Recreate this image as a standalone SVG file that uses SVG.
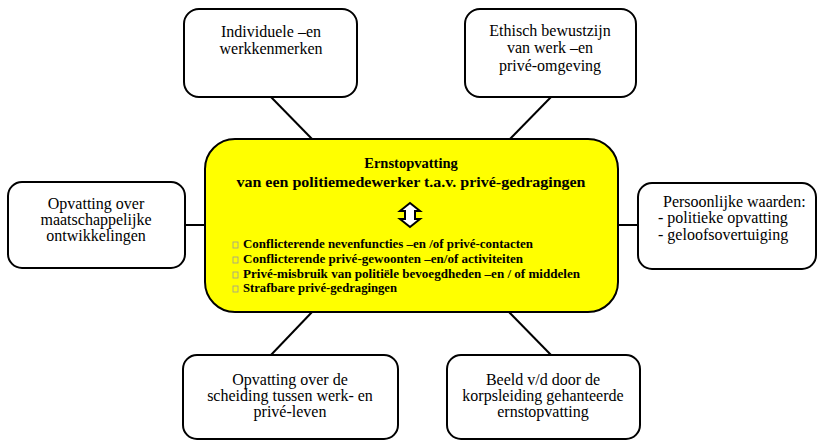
<svg xmlns="http://www.w3.org/2000/svg" width="821" height="441" viewBox="0 0 821 441">
<style>
.box{fill:#fff;stroke:#000;stroke-width:2}
.core{fill:#ffff00;stroke:#000;stroke-width:2}
.t{font-family:"Liberation Serif","Times New Roman",serif;font-size:16px;fill:#000}
.c{text-anchor:middle}
.b{font-family:"Liberation Serif","Times New Roman",serif;font-weight:bold;fill:#000}
.sq{fill:none;stroke:#999;stroke-width:0.8}
.ln{stroke:#000;stroke-width:2;fill:none}
</style>
<rect width="821" height="441" fill="#fff"/>
<g id="connectors">
<line class="ln" x1="270" y1="96" x2="313" y2="140"/>
<line class="ln" x1="552" y1="96" x2="509" y2="140"/>
<line class="ln" x1="185" y1="225" x2="206" y2="225"/>
<line class="ln" x1="617" y1="225" x2="638" y2="225"/>
<line class="ln" x1="313" y1="311" x2="270" y2="356"/>
<line class="ln" x1="508" y1="311" x2="552" y2="356"/>
</g>
<g id="n-core">
<rect class="core" x="205" y="139" width="413" height="173" rx="30"/>
<text class="b c" x="411" y="168" font-size="14.5">Ernstopvatting</text>
<text class="b c" x="411" y="187" font-size="14.5" textLength="349" lengthAdjust="spacingAndGlyphs">van een politiemedewerker  t.a.v. privé-gedragingen</text>
<path d="M410,203 L420,211 L415,211 L415,219 L420,219 L410,227 L400,219 L405,219 L405,211 L400,211 Z" fill="#fff" stroke="#000" stroke-width="2" stroke-linejoin="miter"/>
<rect class="sq" x="233" y="242" width="5" height="6"/>
<rect class="sq" x="233" y="257" width="5" height="6"/>
<rect class="sq" x="233" y="272" width="5" height="6"/>
<rect class="sq" x="233" y="286" width="5" height="6"/>
<text class="b" x="243" y="248" font-size="11.5" textLength="290" lengthAdjust="spacingAndGlyphs">Conflicterende nevenfuncties –en /of privé-contacten</text>
<text class="b" x="243" y="263" font-size="11.5" textLength="280" lengthAdjust="spacingAndGlyphs">Conflicterende privé-gewoonten –en/of activiteiten</text>
<text class="b" x="243" y="278" font-size="11.5" textLength="337" lengthAdjust="spacingAndGlyphs">Privé-misbruik van politiële bevoegdheden –en / of middelen</text>
<text class="b" x="243" y="292" font-size="11.5" textLength="154" lengthAdjust="spacingAndGlyphs">Strafbare privé-gedragingen</text>
</g>
<g id="n-individueel">
<rect class="box" x="184" y="9" width="173" height="88" rx="15"/>
<text class="t c" x="271" y="37">Individuele –en</text>
<text class="t c" x="271" y="54">werkkenmerken</text>
</g>
<g id="n-ethisch">
<rect class="box" x="465" y="9" width="171" height="88" rx="15"/>
<text class="t c" x="550" y="36">Ethisch bewustzijn</text>
<text class="t c" x="550" y="53">van werk –en</text>
<text class="t c" x="550" y="71">privé-omgeving</text>
</g>
<g id="n-maatschappij">
<rect class="box" x="8" y="182" width="177" height="86" rx="14"/>
<text class="t c" x="96" y="209">Opvatting over</text>
<text class="t c" x="96" y="225">maatschappelijke</text>
<text class="t c" x="96" y="241">ontwikkelingen</text>
</g>
<g id="n-waarden">
<rect class="box" x="638" y="183" width="178" height="86" rx="14"/>
<text class="t" x="663" y="207">Persoonlijke waarden:</text>
<text class="t" x="658" y="223">- politieke opvatting</text>
<text class="t" x="658" y="240">- geloofsovertuiging</text>
</g>
<g id="n-scheiding">
<rect class="box" x="183" y="355" width="215" height="84" rx="14"/>
<text class="t c" x="290" y="385">Opvatting over de</text>
<text class="t c" x="290" y="401">scheiding tussen werk- en</text>
<text class="t c" x="290" y="417">privé-leven</text>
</g>
<g id="n-beeld">
<rect class="box" x="447" y="355" width="193" height="84" rx="14"/>
<text class="t c" x="543" y="385">Beeld v/d door de</text>
<text class="t c" x="543" y="401">korpsleiding gehanteerde</text>
<text class="t c" x="543" y="417">ernstopvatting</text>
</g>
</svg>
